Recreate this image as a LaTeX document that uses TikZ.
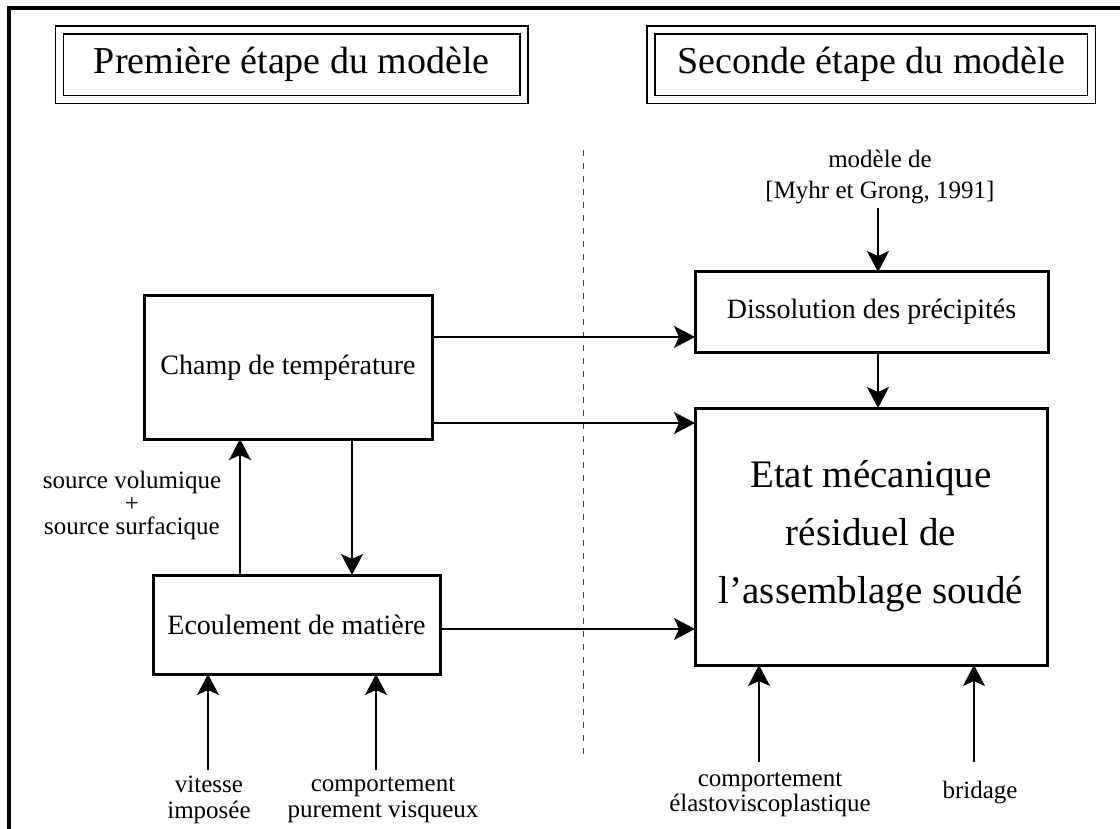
\documentclass[tikz,border=0pt]{standalone}
\usepackage{fontspec}
\setmainfont{Liberation Serif}
\usetikzlibrary{arrows.meta,calc}
\begin{document}
\begin{tikzpicture}[x=1pt,y=-1pt,
 box/.style={draw,line width=3pt,inner sep=0pt,outer sep=0pt,font=\fontsize{28}{34}\selectfont,align=center},
 titlebox/.style={draw,line width=1.6pt,double,double distance=6.5pt,inner sep=0pt,outer sep=0pt,font=\fontsize{38}{46}\selectfont},
 lbl/.style={font=\fontsize{25}{26}\selectfont,align=center,inner sep=0pt},
 arr/.style={line width=1.5pt,-{Stealth[length=21pt,width=22pt,inset=5pt]}},
 sep/.style={line width=1pt,black!75,dash pattern=on 6pt off 7pt},
]
\useasboundingbox (0,0) rectangle (1120,829);
% outer frame (cut by the picture edges)
\draw[line width=3.5pt] (9,829) -- (9,8) -- (1120,8);

% titles
\node[titlebox,minimum width=464.5pt,minimum height=69.5pt] (t1) at (291.75,64.75) {Première étape du modèle};
\node[titlebox,minimum width=440.5pt,minimum height=69.5pt] (t2) at (871.25,64.75) {Seconde étape du modèle};

% separator
\coordinate (s1) at (583,150);
\coordinate (s2) at (583,756);
\draw[sep] (s1) -- (s2);

% boxes
\node[box,minimum width=288pt,minimum height=143pt] (champ) at (288,367.5) {Champ de température};
\node[box,minimum width=287pt,minimum height=99pt] (ecoul) at (296.5,624.5) {Ecoulement de matière};
\node[box,minimum width=353pt,minimum height=80pt] (diss) at (871.5,312) {Dissolution des précipités};
\node[box,minimum width=352pt,minimum height=257pt,font=\fontsize{39}{58}\selectfont] (etat) at (871,536.5) {Etat mécanique\\résiduel de\\l’assemblage soudé};

% labels
\node[lbl,font=\fontsize{25}{31}\selectfont] (myhr) at (880,177) {modèle de\\{[}Myhr et Grong, 1991{]}};
\node[lbl,font=\fontsize{25}{23}\selectfont] (src) at (132,505) {source volumique\\+\\source surfacique};
\node[lbl] (vit) at (209,800) {vitesse\\imposée};
\node[lbl] (visq) at (383,800) {comportement\\purement visqueux};
\node[lbl,font=\fontsize{25}{25}\selectfont] (elas) at (770,795) {comportement\\élastoviscoplastique};
\node[lbl] (brid) at (980,793) {bridage};

% arrow tails
\coordinate (cm) at (878,208);
\coordinate (cv) at (208,770);
\coordinate (cq) at (376,770);
\coordinate (ce) at (759,762);
\coordinate (cb) at (974,762);

% connectors
\draw[arr] (cm) -- (cm |- diss.north);
\draw[arr] (diss.south -| cm) -- (etat.north -| cm);
\draw[arr] (champ.east |- 0,337) -- (diss.west |- 0,337);
\draw[arr] (champ.east |- 0,423) -- (etat.west |- 0,423);
\draw[arr] (ecoul.east |- 0,629) -- (etat.west |- 0,629);
\draw[arr] (ecoul.north -| 240,0) -- (champ.south -| 240,0);
\draw[arr] (champ.south -| 352,0) -- (ecoul.north -| 352,0);
\draw[arr] (cv) -- (cv |- ecoul.south);
\draw[arr] (cq) -- (cq |- ecoul.south);
\draw[arr] (ce) -- (ce |- etat.south);
\draw[arr] (cb) -- (cb |- etat.south);
\end{tikzpicture}
\end{document}
